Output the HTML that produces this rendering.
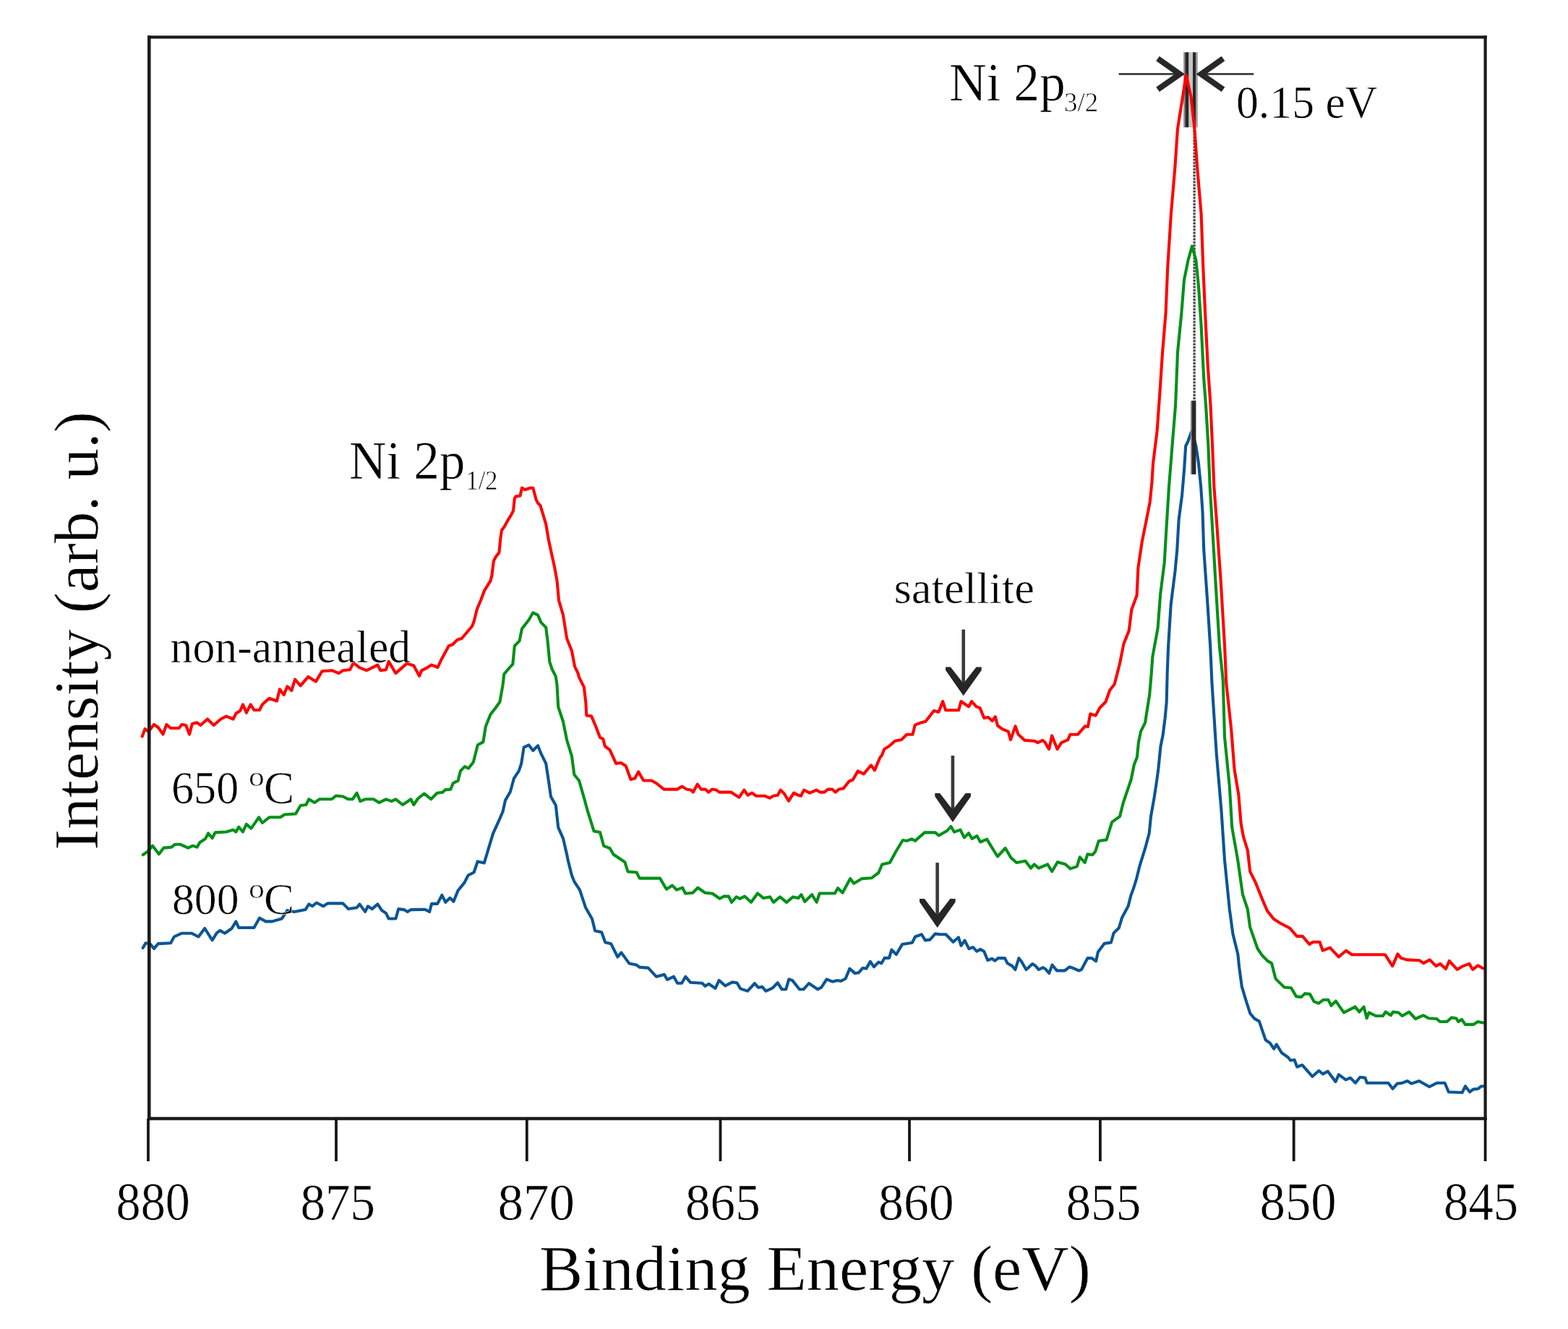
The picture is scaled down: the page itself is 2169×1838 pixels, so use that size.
<!DOCTYPE html>
<html><head><meta charset="utf-8"><title>Ni 2p XPS spectra</title>
<style>html,body{margin:0;padding:0;background:#fff;overflow:hidden}svg{display:block}text{font-family:"Liberation Serif","Times New Roman",serif;fill:#000;stroke:#fff;stroke-width:0.6px}</style></head><body>
<svg width="2169" height="1838" viewBox="0 0 2169 1838">
<rect x="0" y="0" width="2169" height="1838" fill="#fff"/>
<rect x="1637.3" y="72.3" width="19.4" height="103.8" fill="#c4c4c4"/>
<rect x="1637.3" y="72.3" width="2.2" height="103.8" fill="#8a8a8a"/>
<rect x="1639.5" y="72.3" width="4.7" height="103.8" fill="#282828"/>
<rect x="1650" y="72.3" width="4.3" height="103.8" fill="#282828"/>
<rect x="1654.3" y="72.3" width="2.2" height="103.8" fill="#9a9a9a"/>
<line x1="1652.1" y1="176" x2="1652.1" y2="554" stroke="#b8b8b8" stroke-width="3.2"/>
<line x1="1652.1" y1="176" x2="1652.1" y2="554" stroke="#2a2a2a" stroke-width="3.2" stroke-dasharray="1.8 2.6"/>
<g fill="none" stroke-width="4.1" stroke-linejoin="round" stroke-linecap="round">
<polyline stroke="#0b5594" points="197.7,1310.9 201.5,1304.2 207.3,1305.1 213.1,1311.9 218.8,1305.1 236.1,1304.2 240.9,1295.5 251.5,1290.7 264.9,1290.7 274.5,1295.5 283.2,1284.0 293.7,1300.3 299.5,1290.7 304.3,1286.9 311.0,1290.7 320.6,1284.0 326.4,1274.4 330.2,1283.0 351.4,1283.0 359.0,1269.6 367.7,1274.4 376.4,1274.4 389.8,1270.5 397.5,1259.0 407.1,1260.9 422.5,1258.1 427.3,1250.4 432.1,1253.3 437.8,1248.5 447.4,1253.3 453.2,1249.4 474.3,1249.4 482.0,1257.1 493.6,1255.2 497.4,1250.4 505.1,1260.9 508.9,1253.3 514.7,1257.1 522.4,1250.4 528.1,1259.0 533.9,1262.9 537.7,1270.5 547.4,1270.5 551.2,1257.1 558.9,1258.1 563.7,1260.9 568.5,1258.1 580.0,1257.9 588.1,1257.9 594.1,1261.0 597.1,1249.9 605.2,1249.9 611.3,1237.8 616.3,1247.8 622.4,1241.8 627.4,1246.8 633.5,1231.7 642.5,1220.6 647.6,1210.5 655.6,1206.5 660.7,1191.4 669.8,1193.4 676.8,1170.2 682.0,1152.8 690.5,1134.1 695.6,1122.2 699.0,1106.9 705.9,1095.0 711.0,1076.3 717.8,1066.1 721.2,1055.9 724.6,1033.7 731.4,1030.3 737.3,1038.0 744.1,1031.2 748.4,1042.2 755.2,1055.9 758.6,1078.0 762.0,1101.8 768.8,1113.7 772.2,1144.3 779.0,1159.6 784.1,1181.7 785.8,1190.3 790.9,1210.6 794.3,1219.1 801.9,1230.7 810.0,1254.9 819.1,1271.0 823.1,1287.2 832.2,1289.2 837.2,1303.3 845.3,1305.3 854.4,1323.5 859.4,1317.4 870.5,1332.6 880.6,1334.6 884.6,1337.6 896.7,1338.6 907.8,1350.7 918.9,1347.7 922.9,1354.8 932.0,1350.7 937.1,1359.8 943.1,1359.8 948.2,1350.7 955.2,1358.8 971.4,1359.8 975.4,1363.8 980.5,1360.8 989.5,1366.9 994.6,1355.8 1003.1,1363.3 1012.9,1358.4 1019.4,1359.2 1024.3,1367.4 1034.1,1370.6 1043.9,1360.0 1048.8,1365.7 1054.5,1364.9 1059.4,1370.6 1068.4,1366.6 1075.7,1359.2 1081.4,1368.2 1087.2,1368.2 1091.2,1354.3 1096.1,1355.9 1105.9,1368.2 1111.7,1368.2 1119.0,1360.0 1131.2,1368.2 1136.1,1365.7 1143.5,1354.3 1151.7,1357.6 1158.2,1355.9 1163.1,1356.8 1169.6,1353.5 1175.3,1339.6 1182.7,1346.1 1187.6,1345.3 1193.3,1338.8 1198.2,1339.6 1203.9,1329.8 1208.8,1337.2 1215.3,1330.6 1219.4,1332.3 1223.5,1324.9 1230.0,1324.9 1233.3,1313.5 1239.8,1320.0 1248.0,1306.1 1261.9,1303.7 1266.0,1295.5 1274.9,1292.3 1279.8,1300.4 1286.4,1299.6 1293.7,1291.4 1300.2,1292.3 1308.4,1292.3 1318.6,1302.8 1325.9,1296.3 1329.5,1307.8 1334.5,1300.6 1340.3,1312.1 1346.0,1310.0 1351.1,1315.7 1356.1,1312.9 1361.2,1315.7 1366.2,1328.0 1372.0,1325.8 1376.3,1328.7 1380.6,1325.1 1390.0,1325.1 1393.6,1332.3 1400.1,1335.9 1404.4,1341.0 1409.4,1325.1 1413.7,1330.9 1419.5,1341.0 1428.2,1333.0 1432.5,1335.9 1436.8,1341.0 1442.6,1338.1 1446.2,1340.2 1451.2,1346.0 1455.5,1334.5 1462.0,1342.4 1472.8,1342.4 1479.3,1337.3 1484.4,1338.8 1492.3,1342.4 1495.9,1341.0 1504.5,1325.1 1510.3,1325.1 1516.1,1329.4 1518.9,1316.5 1527.6,1304.9 1536.9,1303.5 1540.5,1290.5 1547.8,1283.3 1552.1,1268.9 1560.7,1253.1 1564.3,1238.6 1568.2,1228.0 1572.1,1215.3 1576.7,1196.8 1584.4,1172.2 1589.7,1152.2 1592.0,1129.2 1596.6,1103.1 1600.4,1078.0 1602.4,1062.7 1605.5,1032.0 1608.6,1016.7 1611.6,993.3 1613.7,970.8 1614.7,930.0 1616.1,894.0 1619.7,835.9 1625.5,790.0 1628.3,760.0 1630.6,718.7 1635.1,684.7 1638.0,650.7 1640.2,616.7 1643.1,611.0 1647.6,598.5 1648.8,596.3 1654.4,616.7 1657.8,639.4 1661.2,673.4 1663.5,707.4 1665.2,760.0 1670.5,835.9 1674.2,894.0 1676.5,945.0 1682.7,1042.0 1689.5,1121.4 1694.0,1189.4 1700.8,1257.5 1705.4,1291.5 1712.4,1320.0 1714.2,1337.8 1717.8,1364.4 1723.1,1382.2 1729.3,1401.7 1735.5,1408.9 1741.8,1412.4 1750.6,1438.2 1756.9,1442.6 1762.2,1450.6 1765.8,1444.4 1772.9,1456.0 1781.7,1462.2 1785.3,1466.6 1790.6,1465.7 1794.2,1475.5 1801.3,1472.8 1815.5,1488.8 1824.4,1480.8 1829.7,1485.3 1836.8,1481.7 1847.5,1495.9 1851.9,1486.2 1861.7,1493.3 1867.9,1490.6 1875.0,1497.7 1881.3,1489.7 1888.4,1490.6 1891.0,1497.7 1920.4,1497.7 1926.6,1505.7 1932.8,1498.6 1939.9,1497.7 1947.0,1495.0 1952.4,1498.6 1963.0,1495.0 1977.2,1503.0 1987.9,1497.7 1998.6,1497.7 2003.9,1510.2 2022.6,1511.0 2027.0,1502.2 2033.2,1510.2 2037.7,1506.6 2044.8,1505.7 2049.2,1502.2 2051.9,1502.2"/>
<polyline stroke="#009018" points="197.7,1182.2 203.4,1178.3 211.1,1169.7 219.8,1181.2 226.5,1172.6 237.1,1171.6 241.9,1167.8 249.6,1167.8 260.1,1172.6 266.8,1169.7 272.6,1171.6 276.5,1164.9 284.1,1160.1 288.0,1152.4 293.7,1159.1 297.6,1151.4 313.0,1150.5 322.6,1147.6 326.4,1150.5 330.2,1143.7 336.0,1150.5 340.8,1139.9 347.5,1145.7 358.1,1130.3 362.9,1138.0 372.5,1130.3 387.9,1130.3 393.6,1126.5 409.0,1125.5 415.7,1114.0 423.4,1113.0 427.3,1105.3 435.0,1110.1 441.7,1105.3 459.0,1105.3 464.7,1100.5 474.3,1101.5 482.0,1105.3 487.8,1105.3 493.6,1096.7 498.4,1108.2 505.1,1105.3 516.6,1105.3 524.3,1110.1 533.9,1105.3 541.6,1108.2 547.4,1105.3 557.0,1113.0 568.5,1105.3 572.3,1113.0 578.0,1104.5 586.8,1097.5 596.2,1105.2 604.7,1096.7 612.3,1095.8 615.7,1092.4 623.4,1091.6 626.8,1083.1 633.6,1079.7 637.0,1066.1 642.9,1060.1 648.0,1062.7 654.8,1054.1 660.8,1030.3 668.4,1026.1 671.8,1004.8 678.6,987.8 685.4,979.3 691.4,970.8 695.6,947.0 697.3,932.3 705.9,922.1 709.3,918.7 711.8,893.2 718.6,886.4 722.0,869.4 731.4,857.5 737.3,847.3 744.1,850.7 748.4,860.9 755.2,867.7 757.7,888.1 760.3,915.3 763.7,925.5 768.8,935.7 770.5,947.0 772.2,977.6 779.0,998.0 784.1,1023.5 790.9,1045.6 794.3,1071.2 801.1,1079.7 807.9,1103.5 813.0,1122.2 821.5,1149.4 830.0,1151.1 835.1,1169.8 843.6,1173.2 848.7,1181.7 858.4,1188.3 864.4,1192.4 868.5,1205.5 880.6,1206.5 884.6,1214.6 912.9,1214.6 921.9,1229.7 930.0,1224.6 936.1,1230.7 944.1,1227.7 948.2,1235.7 958.3,1234.7 965.3,1227.7 975.4,1234.7 985.5,1235.7 995.6,1242.8 1001.4,1239.6 1008.0,1239.6 1012.0,1247.8 1018.6,1240.4 1023.5,1242.9 1030.0,1239.6 1039.0,1247.8 1048.0,1235.5 1056.1,1242.1 1065.1,1240.4 1070.0,1247.8 1079.0,1240.4 1088.0,1247.8 1097.0,1240.4 1104.3,1242.1 1108.4,1237.2 1113.3,1247.0 1123.1,1237.2 1129.6,1247.8 1133.7,1235.5 1154.9,1235.5 1159.0,1228.2 1165.5,1234.7 1176.2,1215.1 1181.1,1221.7 1192.5,1215.1 1205.5,1214.3 1215.3,1207.0 1220.2,1195.5 1230.9,1193.1 1239.8,1176.7 1248.8,1162.0 1254.5,1162.9 1261.1,1160.4 1266.0,1162.9 1279.0,1151.4 1293.7,1151.4 1298.6,1155.5 1310.0,1149.0 1315.4,1143.0 1320.0,1150.7 1328.4,1147.6 1333.8,1158.4 1340.0,1152.2 1344.6,1159.9 1351.5,1156.1 1356.1,1164.5 1365.3,1160.7 1370.7,1169.9 1379.9,1184.5 1390.7,1173.0 1398.4,1186.1 1406.1,1193.0 1418.4,1190.7 1426.0,1200.7 1430.6,1195.3 1436.8,1200.7 1449.1,1195.3 1455.2,1205.3 1462.9,1192.2 1473.7,1195.3 1480.6,1201.4 1489.8,1198.4 1493.7,1185.3 1500.6,1193.0 1504.4,1181.4 1511.3,1182.2 1515.2,1177.6 1519.8,1163.0 1530.6,1161.5 1538.2,1136.9 1549.0,1129.2 1553.6,1110.7 1559.8,1092.3 1564.7,1078.0 1568.8,1057.6 1572.9,1047.3 1574.9,1026.9 1578.0,1011.6 1584.1,999.4 1586.1,986.1 1590.2,960.6 1592.8,930.0 1594.3,908.5 1601.6,868.6 1605.2,821.4 1610.7,777.9 1613.2,735.0 1617.0,673.4 1621.5,616.7 1626.1,560.0 1629.0,487.0 1634.4,432.6 1638.0,387.2 1643.5,360.0 1649.0,340.4 1654.4,360.0 1658.0,396.3 1661.6,450.7 1665.2,523.3 1668.0,560.0 1671.4,616.7 1673.7,673.4 1677.1,730.0 1681.4,803.3 1686.9,894.0 1691.7,940.0 1694.0,1019.4 1700.8,1087.4 1704.2,1144.1 1712.2,1189.4 1719.0,1237.1 1725.8,1257.5 1729.2,1282.4 1739.6,1312.0 1746.3,1321.8 1753.3,1328.9 1759.0,1332.1 1764.5,1353.6 1776.5,1365.4 1786.0,1366.2 1793.1,1378.1 1800.2,1378.9 1805.0,1374.1 1812.1,1374.9 1817.7,1385.2 1824.0,1387.6 1830.3,1382.8 1837.5,1382.8 1841.4,1390.8 1847.8,1384.4 1858.9,1400.3 1874.7,1392.4 1880.3,1399.5 1886.6,1392.4 1890.6,1408.2 1893.7,1400.3 1903.3,1405.0 1912.8,1405.0 1916.7,1399.5 1923.9,1404.2 1927.0,1399.5 1934.2,1400.3 1939.7,1405.0 1949.2,1399.5 1958.0,1409.0 1969.0,1404.2 1976.2,1408.2 1987.3,1409.0 1992.0,1413.0 2001.5,1413.0 2007.9,1407.4 2014.2,1408.2 2017.4,1413.0 2022.1,1409.8 2026.9,1416.9 2038.0,1416.9 2044.3,1413.0 2051.5,1414.5"/>
<polyline stroke="#ff0000" points="196.7,1018.5 200.6,1008.0 205.4,1011.8 213.0,1002.0 218.8,1006.0 225.5,1015.6 230.3,1002.0 236.1,1007.0 247.6,1007.0 251.5,1002.0 257.2,1003.0 262.0,1015.6 265.9,1001.0 272.6,999.3 277.4,1003.0 287.0,994.5 295.7,1003.0 305.3,994.5 313.0,990.6 322.6,994.5 326.4,986.8 332.2,983.0 336.0,974.3 340.8,985.8 346.6,974.3 351.4,982.0 359.0,982.0 362.9,974.3 372.5,965.7 383.0,969.5 386.9,953.2 392.7,960.9 397.5,949.3 403.3,955.1 408.1,939.7 415.7,948.4 426.3,935.9 436.9,942.6 445.5,928.2 459.0,927.2 468.6,931.1 474.3,927.2 484.0,926.3 488.8,916.7 497.4,923.4 507.0,927.2 522.4,919.6 526.2,927.2 533.9,926.3 537.7,914.8 547.4,931.1 562.7,917.6 572.3,920.5 580.0,934.9 583.4,927.2 590.2,923.8 597.0,919.6 605.5,923.0 610.6,911.9 620.8,893.2 625.9,891.5 632.7,884.7 638.7,883.0 653.1,866.0 655.7,859.2 659.9,842.2 665.0,830.3 670.1,816.7 678.6,803.1 680.3,796.3 682.9,775.9 685.4,770.7 690.5,763.9 692.2,745.2 694.0,733.3 697.3,729.1 702.4,719.7 706.7,712.9 710.1,706.1 711.8,689.1 713.5,686.6 719.5,685.7 722.0,674.7 726.3,677.2 733.9,674.7 737.3,674.7 741.6,690.8 744.1,695.9 747.5,699.3 750.1,707.8 755.2,724.8 758.6,745.2 763.7,769.0 767.1,784.4 770.5,803.1 773.0,830.3 779.0,850.7 784.1,883.0 790.9,900.0 795.1,922.1 799.4,930.6 801.1,936.8 807.9,950.4 810.4,972.5 811.3,989.5 818.1,990.4 824.9,1006.5 830.0,1020.1 834.2,1021.8 836.8,1032.0 843.6,1037.1 852.1,1055.9 858.9,1055.0 865.7,1059.3 872.5,1078.0 878.1,1076.5 883.1,1067.4 890.2,1079.5 901.3,1079.5 908.3,1083.5 918.4,1091.6 936.6,1091.6 943.6,1087.6 949.7,1091.6 955.7,1092.6 958.8,1095.6 964.8,1084.6 969.9,1091.6 975.9,1091.6 979.9,1095.6 985.0,1091.6 991.0,1092.6 995.1,1095.6 1011.2,1095.6 1022.3,1102.7 1029.4,1092.6 1034.4,1099.7 1040.5,1096.7 1045.5,1100.7 1057.6,1100.7 1064.7,1103.7 1069.7,1100.7 1075.8,1099.7 1079.8,1092.6 1084.9,1097.7 1090.9,1107.8 1098.0,1096.7 1104.0,1099.7 1108.0,1100.7 1112.1,1092.6 1120.1,1096.7 1129.2,1092.6 1134.3,1095.6 1140.3,1095.6 1145.4,1091.6 1151.4,1091.6 1155.5,1095.6 1160.5,1091.6 1166.5,1090.6 1174.6,1080.5 1179.7,1078.5 1186.7,1066.4 1194.8,1070.4 1204.9,1058.3 1209.9,1065.4 1217.0,1048.2 1220.0,1044.3 1223.3,1036.1 1229.8,1032.1 1238.0,1024.7 1246.9,1023.1 1254.3,1015.7 1262.5,1015.7 1265.7,1002.7 1273.9,999.4 1280.4,997.8 1291.8,983.1 1298.4,984.7 1304.1,970.0 1308.2,982.3 1326.1,982.3 1329.4,970.0 1340.0,977.4 1344.1,970.0 1350.6,977.4 1355.5,979.0 1361.2,992.9 1367.0,992.0 1372.7,997.0 1376.8,991.2 1380.0,1003.5 1386.6,1008.4 1394.7,1011.6 1398.0,1023.1 1404.5,1004.3 1408.6,1015.7 1417.6,1023.9 1430.6,1024.7 1435.5,1027.2 1442.1,1023.9 1445.3,1026.3 1451.1,1036.1 1455.1,1017.4 1462.5,1036.1 1468.2,1027.2 1477.2,1023.1 1480.4,1015.7 1491.1,1015.7 1500.9,1004.3 1504.9,1005.1 1508.2,987.2 1515.6,989.6 1521.3,979.0 1529.4,970.8 1535.2,954.5 1541.7,946.3 1549.0,917.6 1554.4,890.4 1561.7,872.2 1565.3,843.2 1572.6,823.2 1574.4,785.1 1579.8,748.9 1585.3,721.6 1590.7,694.4 1593.4,667.2 1595.0,641.3 1600.6,595.9 1604.5,541.5 1608.1,487.0 1612.6,432.6 1615.2,370.0 1619.9,295.9 1625.3,232.4 1629.0,178.0 1636.2,132.6 1640.7,103.5 1647.4,133.2 1652.3,176.6 1656.2,232.4 1661.6,295.9 1664.3,370.0 1667.1,432.6 1670.7,505.2 1674.5,560.0 1677.1,616.7 1679.4,673.4 1682.8,718.7 1688.7,803.3 1694.1,894.0 1696.3,945.0 1703.1,1008.0 1707.6,1064.7 1713.3,1098.7 1716.7,1139.5 1720.1,1157.7 1725.8,1175.8 1729.2,1205.3 1737.1,1221.2 1746.2,1243.9 1753.0,1259.7 1762.0,1271.1 1771.1,1276.7 1784.4,1283.8 1793.9,1294.9 1801.8,1294.9 1811.3,1306.0 1816.1,1302.8 1825.6,1302.8 1829.6,1314.7 1839.9,1310.7 1851.7,1323.4 1862.0,1314.7 1870.0,1320.2 1915.9,1320.2 1926.2,1336.1 1933.4,1319.4 1938.1,1325.0 1946.0,1327.4 1963.5,1328.2 1969.0,1332.1 1977.8,1327.4 1986.5,1336.1 1992.0,1332.9 2000.0,1340.0 2004.7,1329.0 2015.8,1340.8 2023.7,1336.1 2032.4,1332.9 2037.2,1340.8 2044.3,1335.3 2051.5,1339.3"/>
</g>
<g fill="none" stroke="#1c1c1c" stroke-linecap="square">
<line x1="206.3" y1="51.4" x2="2054.6" y2="51.4" stroke-width="4.4"/>
<line x1="206.3" y1="51.4" x2="206.3" y2="1547" stroke-width="4.6"/>
<line x1="2054.6" y1="51.4" x2="2054.6" y2="1547" stroke-width="4.2"/>
<line x1="206.3" y1="1547" x2="2054.6" y2="1547" stroke-width="4.6"/>
</g>
<g stroke="#161616" stroke-width="3.8">
<line x1="205" y1="1547" x2="205" y2="1606"/>
<line x1="465" y1="1547" x2="465" y2="1606"/>
<line x1="728.8" y1="1547" x2="728.8" y2="1606"/>
<line x1="996.5" y1="1547" x2="996.5" y2="1606"/>
<line x1="1258" y1="1547" x2="1258" y2="1606"/>
<line x1="1521.9" y1="1547" x2="1521.9" y2="1606"/>
<line x1="1789.7" y1="1547" x2="1789.7" y2="1606"/>
<line x1="2054.6" y1="1547" x2="2054.6" y2="1606"/>
</g>
<g>
<rect x="1646.8" y="554.2" width="1.6" height="101.8" fill="#999"/>
<rect x="1648.4" y="554.2" width="6" height="101.8" fill="#282828"/>
<g stroke="#3c3c3c" stroke-width="2.8"><line x1="1547.6" y1="102.4" x2="1636" y2="102.4"/><line x1="1657" y1="102.4" x2="1734.2" y2="102.4"/></g>
<g fill="none" stroke="#282828" stroke-width="8" stroke-linejoin="miter" stroke-miterlimit="10"><polyline points="1601.5,81 1632,102.4 1601.5,123.8"/><polyline points="1692,81 1661.5,102.4 1692,123.8"/></g>
<g fill="#262626">
<rect x="1330.4" y="870.6" width="4.6" height="76.7" fill="#3a3a3a"/>
<polygon points="1308.1,922.4 1314.9,922.4 1332.7,945.3 1350.5,922.4 1357.7,922.4 1357.7,926.9 1332.7,962.3 1308.1,926.9"/>
<rect x="1315.6" y="1045" width="4.6" height="76.9" fill="#3a3a3a"/>
<polygon points="1293.3,1097.0 1300.1,1097.0 1317.9,1119.9 1335.7,1097.0 1342.9,1097.0 1342.9,1101.5 1317.9,1136.9 1293.3,1101.5"/>
<rect x="1294.3" y="1193.1" width="4.6" height="74.8" fill="#3a3a3a"/>
<polygon points="1272.0,1243.0 1278.8,1243.0 1296.6,1265.9 1314.4,1243.0 1321.6,1243.0 1321.6,1247.5 1296.6,1282.9 1272.0,1247.5"/>
</g>
</g>
<text x="160.50" y="1687.00" font-size="73.18" textLength="102.41" lengthAdjust="spacingAndGlyphs">880</text>
<text x="415.50" y="1687.00" font-size="72.44" textLength="103.49" lengthAdjust="spacingAndGlyphs">875</text>
<text x="688.50" y="1687.00" font-size="72.44" textLength="106.34" lengthAdjust="spacingAndGlyphs">870</text>
<text x="948.00" y="1687.00" font-size="72.44" textLength="103.80" lengthAdjust="spacingAndGlyphs">865</text>
<text x="1215.00" y="1687.00" font-size="72.44" textLength="104.76" lengthAdjust="spacingAndGlyphs">860</text>
<text x="1474.50" y="1687.00" font-size="72.44" textLength="103.70" lengthAdjust="spacingAndGlyphs">855</text>
<text x="1742.50" y="1687.00" font-size="73.27" textLength="106.31" lengthAdjust="spacingAndGlyphs">850</text>
<text x="1997.00" y="1687.00" font-size="73.94" textLength="103.19" lengthAdjust="spacingAndGlyphs">845</text>
<text x="746.00" y="1784.00" font-size="88.13" textLength="762.83" lengthAdjust="spacingAndGlyphs">Binding Energy (eV)</text>
<text transform="translate(134.80,1176.00) rotate(-90)" font-size="86.39" textLength="606.82" lengthAdjust="spacingAndGlyphs">Intensity (arb. u.)</text>
<text x="1313.00" y="139.00" font-size="74.79" textLength="160.85" lengthAdjust="spacingAndGlyphs">Ni 2p</text>
<text x="1472.00" y="154.00" font-size="38.63" textLength="47.05" lengthAdjust="spacingAndGlyphs">3/2</text>
<text x="483.00" y="661.50" font-size="74.43" textLength="160.47" lengthAdjust="spacingAndGlyphs">Ni 2p</text>
<text x="644.50" y="676.50" font-size="38.93" textLength="43.94" lengthAdjust="spacingAndGlyphs">1/2</text>
<text x="1710.00" y="163.00" font-size="64.19" textLength="195.38" lengthAdjust="spacingAndGlyphs">0.15 eV</text>
<text x="1236.50" y="833.50" font-size="60.33" textLength="194.38" lengthAdjust="spacingAndGlyphs">satellite</text>
<text x="235.50" y="915.50" font-size="62.34" textLength="332.74" lengthAdjust="spacingAndGlyphs">non-annealed</text>
<text x="237.00" y="1111.00" font-size="64.26" textLength="93.20" lengthAdjust="spacingAndGlyphs">650</text>
<text x="344.00" y="1087.00" font-size="38.56" textLength="21.77" lengthAdjust="spacingAndGlyphs">o</text>
<text x="365.00" y="1111.00" font-size="64.26" textLength="42.01" lengthAdjust="spacingAndGlyphs">C</text>
<text x="238.00" y="1264.00" font-size="61.28" textLength="92.52" lengthAdjust="spacingAndGlyphs">800</text>
<text x="344.00" y="1241.50" font-size="37.74" textLength="21.91" lengthAdjust="spacingAndGlyphs">o</text>
<text x="365.00" y="1264.00" font-size="61.28" textLength="42.01" lengthAdjust="spacingAndGlyphs">C</text>
</svg></body></html>
